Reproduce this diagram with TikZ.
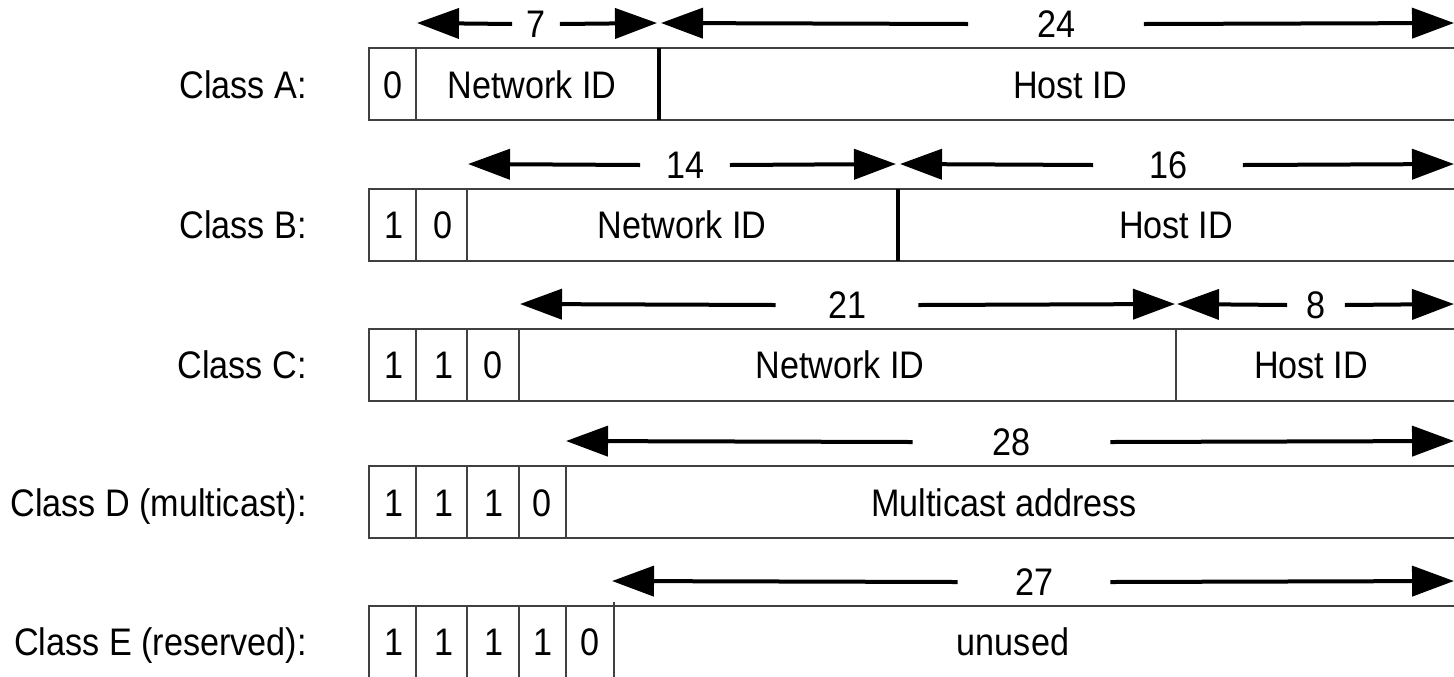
\documentclass[tikz,border=0pt]{standalone}
\usepackage{fontspec}
\setmainfont[FakeStretch=0.89]{Liberation Sans}
\usetikzlibrary{arrows.meta}
\begin{document}
\begin{tikzpicture}[x=0.5pt,y=-0.5pt,
  field/.style={draw=black!75, line width=0.7pt},
  thinsep/.style={draw=black!75, line width=0.7pt},
  thicksep/.style={draw=black, line width=1.8pt},
  dim/.style={draw=black, line width=2pt, -{Triangle[length=21pt,width=15pt]}},
  txt/.style={font=\fontsize{19.2}{22}\selectfont, inner sep=0pt, text height=13.7pt, text depth=0pt},
  cls/.style={txt, anchor=east},
  num/.style={txt}]
\useasboundingbox (0,0) rectangle (1454,676);

% ---------- Class A ----------
\node[cls] (lA) at (307,85) {Class A:};
\draw[field] (369,48) rectangle (1470,120);
\draw[thinsep] (416,48) -- (416,120);
\draw[thicksep] (659,48) -- (659,120);
\node[txt] (a0) at (393,85) {0};
\node[txt] (anet) at (532,85) {Network ID};
\node[txt] (ahost) at (1070,85) {Host ID};
\coordinate (a7L) at (417,23);
\coordinate (a7R) at (657,23);
\coordinate (a24L) at (661,23);
\coordinate (a24R) at (1454,23);
\node[num, minimum width=23.5pt] (n7) at (536,24) {7};
\node[num, minimum width=87.5pt] (n24) at (1056,24) {24};
\draw[dim] (n7.west) -- (a7L);
\draw[dim] (n7.east) -- (a7R);
\draw[dim] (n24.west) -- (a24L);
\draw[dim] (n24.east) -- (a24R);

% ---------- Class B ----------
\node[cls] (lB) at (307,225) {Class B:};
\draw[field] (369,189) rectangle (1470,261);
\draw[thinsep] (416,189) -- (416,261);
\draw[thinsep] (467,189) -- (467,261);
\draw[thicksep] (898,189) -- (898,261);
\node[txt] (b1) at (394,225) {1};
\node[txt] (b0) at (443,225) {0};
\node[txt] (bnet) at (682,225) {Network ID};
\node[txt] (bhost) at (1176,225) {Host ID};
\coordinate (b14L) at (468,164);
\coordinate (b14R) at (896,164);
\coordinate (b16L) at (900,164);
\coordinate (b16R) at (1454,164);
\node[num, minimum width=44.5pt] (n14) at (685,165) {14};
\node[num, minimum width=74.5pt] (n16) at (1168,165) {16};
\draw[dim] (n14.west) -- (b14L);
\draw[dim] (n14.east) -- (b14R);
\draw[dim] (n16.west) -- (b16L);
\draw[dim] (n16.east) -- (b16R);

% ---------- Class C ----------
\node[cls] (lC) at (307,365) {Class C:};
\draw[field] (369,329) rectangle (1470,401);
\draw[thinsep] (416,329) -- (416,401);
\draw[thinsep] (467,329) -- (467,401);
\draw[thinsep] (519,329) -- (519,401);
\draw[thinsep] (1176,329) -- (1176,401);
\node[txt] (c1) at (394,365) {1};
\node[txt] (c1b) at (444,365) {1};
\node[txt] (c0) at (493,365) {0};
\node[txt] (cnet) at (840,365) {Network ID};
\node[txt] (chost) at (1311,365) {Host ID};
\coordinate (c21L) at (520,304);
\coordinate (c21R) at (1175,304);
\coordinate (c8L) at (1177,304);
\coordinate (c8R) at (1454,304);
\node[num, minimum width=71pt] (n21) at (847,305) {21};
\node[num, minimum width=28.5pt] (n8) at (1316,305) {8};
\draw[dim] (n21.west) -- (c21L);
\draw[dim] (n21.east) -- (c21R);
\draw[dim] (n8.west) -- (c8L);
\draw[dim] (n8.east) -- (c8R);

% ---------- Class D ----------
\node[cls] (lD) at (307,503) {Class D (multicast):};
\draw[field] (369,466) rectangle (1470,538);
\draw[thinsep] (416,466) -- (416,538);
\draw[thinsep] (467,466) -- (467,538);
\draw[thinsep] (519,466) -- (519,538);
\draw[thinsep] (566,466) -- (566,538);
\node[txt] (d1) at (394,503) {1};
\node[txt] (d1b) at (444,503) {1};
\node[txt] (d1c) at (494,503) {1};
\node[txt] (d0) at (542,503) {0};
\node[txt] (dmc) at (1004,503) {Multicast address};
\coordinate (d28L) at (566,441);
\coordinate (d28R) at (1454,441);
\node[num, minimum width=98.5pt] (n28) at (1011.5,442) {28};
\draw[dim] (n28.west) -- (d28L);
\draw[dim] (n28.east) -- (d28R);

% ---------- Class E ----------
\node[cls] (lE) at (307,642) {Class E (reserved):};
\draw[field] (369,606) rectangle (1470,690);
\draw[thinsep] (416,606) -- (416,690);
\draw[thinsep] (467,606) -- (467,690);
\draw[thinsep] (519,606) -- (519,690);
\draw[thinsep] (566,606) -- (566,690);
\draw[thinsep] (614,602) -- (614,690);
\node[txt] (e1) at (394,642) {1};
\node[txt] (e1b) at (444,642) {1};
\node[txt] (e1c) at (494,642) {1};
\node[txt] (e1d) at (543,642) {1};
\node[txt] (e0) at (590,642) {0};
\node[txt] (eun) at (1013,642) {unused};
\coordinate (e27L) at (612,581);
\coordinate (e27R) at (1454,581);
\node[num, minimum width=76pt] (n27) at (1034,582) {27};
\draw[dim] (n27.west) -- (e27L);
\draw[dim] (n27.east) -- (e27R);
\end{tikzpicture}
\end{document}
